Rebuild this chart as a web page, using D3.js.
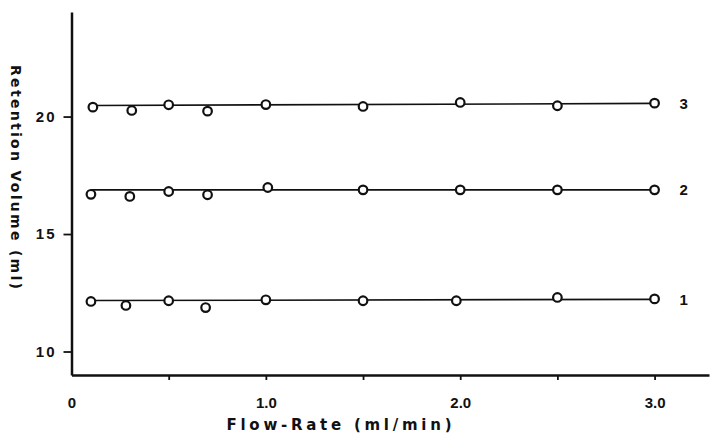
<!DOCTYPE html>
<html>
<head>
<meta charset="utf-8">
<script src="https://cdn.jsdelivr.net/npm/d3@7"></script>
<style>
  body { margin: 0; background: #fff; }
  text { font-family: "Liberation Sans", Arial, sans-serif; font-weight: bold; fill: #111; }
  .title { font-family: "DejaVu Sans", sans-serif; }
</style>
</head>
<body>
<div id="chart"></div>
<script>
// flow rates (ml/min) per curve
var flow1 = [0.1, 0.28, 0.5, 0.69, 1.0, 1.5, 1.98, 2.5, 3.0];
var flow2 = [0.1, 0.3, 0.5, 0.7, 1.01, 1.5, 2.0, 2.5, 3.0];
var flow3 = [0.11, 0.31, 0.5, 0.7, 1.0, 1.5, 2.0, 2.5, 3.0];

// retention volume (ml)
var vol1 = [12.13, 11.96, 12.16, 11.87, 12.20, 12.16, 12.16, 12.30, 12.24];
var vol2 = [16.69, 16.60, 16.81, 16.67, 16.98, 16.88, 16.88, 16.88, 16.88];
var vol3 = [20.40, 20.26, 20.50, 20.23, 20.51, 20.43, 20.60, 20.46, 20.57];

// drawn level of each curve at its first and last point
var level1 = [12.17, 12.22];
var level2 = [16.88, 16.88];
var level3 = [20.47, 20.56];

var curveNames = ['1', '2', '3'];
var yTicks = [10, 15, 20];
var xTicks = [0, 0.5, 1.0, 1.5, 2.0, 2.5, 3.0];

var width = 711, height = 433;

var svg = d3.select('#chart').append('svg')
  .attr('width', width).attr('height', height);

var x = d3.scaleLinear().domain([0, 3.28]).range([71.5, 709]);
var y = d3.scaleLinear().domain([9.0, 24.45]).range([375, 12]);

// y axis
var yAxis = svg.append('g')
  .attr('transform', 'translate(' + x(0) + ',0)')
  .call(d3.axisLeft(y).tickValues(yTicks).tickSize(8).tickSizeOuter(0).tickPadding(7)
    .tickFormat(function(d){ return d; }));
yAxis.select('.domain').attr('stroke', '#111').attr('stroke-width', 2.5);
yAxis.selectAll('.tick line').attr('stroke', '#111').attr('stroke-width', 1.8);
yAxis.selectAll('.tick text')
  .style('font-size', '15px').style('letter-spacing', '2px').attr('fill', '#111');

// x axis
var xAxis = svg.append('g')
  .attr('transform', 'translate(0,' + y(9.0) + ')')
  .call(d3.axisBottom(x).tickValues(xTicks).tickSize(5).tickSizeOuter(0).tickPadding(17)
    .tickFormat(function(d){
      if (d === 0) return '0';
      return d % 1 === 0 ? d.toFixed(1) : '';
    }));
xAxis.select('.domain').attr('stroke', '#111').attr('stroke-width', 2.5);
xAxis.selectAll('.tick line').attr('stroke', '#111').attr('stroke-width', 1.8)
  .filter(function(d){ return d === 0; }).remove();
xAxis.selectAll('.tick text')
  .style('font-size', '15px').attr('fill', '#111');

// axis titles, stretched to the width they take in the original
svg.append('text')
  .attr('class', 'title')
  .attr('x', 339).attr('y', 430)
  .attr('text-anchor', 'middle')
  .attr('textLength', 225).attr('lengthAdjust', 'spacing')
  .style('font-size', '15px')
  .text('Flow-Rate (ml/min)');

svg.append('text')
  .attr('class', 'title')
  .attr('transform', 'translate(11,177) rotate(90)')
  .attr('text-anchor', 'middle')
  .attr('textLength', 224).attr('lengthAdjust', 'spacing')
  .style('font-size', '14px')
  .text('Retention Volume (ml)');

// curves
var curves = [
  { name: curveNames[0], flow: flow1, vol: vol1, level: level1 },
  { name: curveNames[1], flow: flow2, vol: vol2, level: level2 },
  { name: curveNames[2], flow: flow3, vol: vol3, level: level3 }
];

curves.forEach(function(c){
  var g = svg.append('g');
  var f0 = c.flow[0], f1 = c.flow[c.flow.length - 1];

  g.append('line')
    .attr('x1', x(f0)).attr('x2', x(f1))
    .attr('y1', y(c.level[0])).attr('y2', y(c.level[1]))
    .attr('stroke', '#111').attr('stroke-width', 1.6);

  g.selectAll('circle')
    .data(c.flow.map(function(f, i){ return [f, c.vol[i]]; }))
    .enter().append('circle')
    .attr('cx', function(d){ return x(d[0]); })
    .attr('cy', function(d){ return y(d[1]); })
    .attr('r', 4.3)
    .attr('fill', '#fff')
    .attr('stroke', '#111')
    .attr('stroke-width', 2.2);

  g.append('text')
    .attr('x', x(f1) + 25)
    .attr('y', y(c.level[1]))
    .attr('dy', '0.36em')
    .style('font-size', '15px')
    .text(c.name);
});
</script>
</body>
</html>
